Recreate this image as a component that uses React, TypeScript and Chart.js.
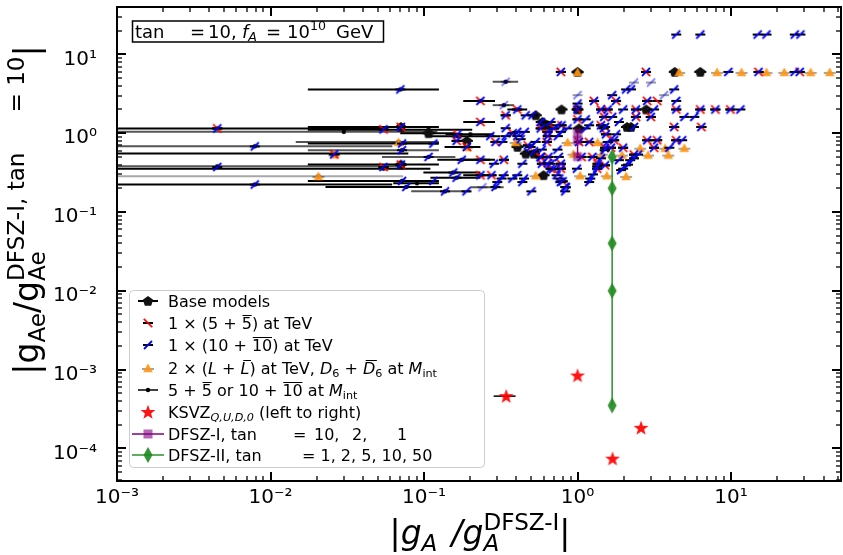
import React, { useEffect, useRef } from 'react';
import { Chart, registerables } from 'chart.js';

Chart.register(...registerables);

const FONT = '"DejaVu Sans", Verdana, sans-serif';

const X_MIN = 1e-3;
const X_MAX = 52;
const Y_MIN = 3.85e-5;
const Y_MAX = 40;

const xTickValues = [1e-3, 1e-2, 1e-1, 1, 10];
const xTickLabels = ['10⁻³', '10⁻²', '10⁻¹', '10⁰', '10¹'];
const yTickValues = [1e-4, 1e-3, 1e-2, 1e-1, 1, 10];
const yTickLabels = ['10⁻⁴', '10⁻³', '10⁻²', '10⁻¹', '10⁰', '10¹'];

type P = [number, number];

// Base models
const basePoints: P[] = [
  [0.107, 1.0], [1.0, 6.0], [0.786, 2.0], [1.0, 2.0], [4.3, 6.0], [6.3, 6.0], [2.8, 2.0],
  [2.1, 1.2], [2.23, 1.2], [0.59, 1.39], [0.64, 1.26], [0.406, 0.67], [0.46, 0.55],
  [0.52, 0.55], [0.6, 0.293], [0.19, 0.8], [0.534, 1.69], [1.02, 1.15], [0.0707, 1.2], [0.0707, 0.4],
];

// 1 x (5 + 5bar) at TeV
const tev5Points: P[] = [
  [0.0045, 1.15], [0.0544, 1.12], [0.0707, 1.2], [0.165, 0.97], [0.233, 2.57], [0.233, 1.39],
  [0.233, 0.46], [0.233, 0.293], [0.0707, 0.4], [0.0544, 0.373], [0.026, 0.54], [0.405, 2.0],
  [0.34, 1.69], [0.292, 0.775], [0.331, 0.46], [0.275, 0.293], [0.163, 0.8], [0.19, 0.67],
  [0.778, 6.0], [0.786, 1.26], [0.575, 1.15], [0.7, 1.15], [0.636, 1.04], [0.64, 0.92],
  [0.63, 0.775], [1.02, 0.775], [1.19, 0.775], [0.575, 0.5], [0.646, 0.5], [1.06, 0.5],
  [1.25, 0.5], [0.585, 0.41], [0.778, 0.41], [1.35, 0.41], [0.668, 0.355], [0.778, 0.355],
  [1.34, 0.355], [1.0, 1.5], [1.0, 2.0], [1.28, 2.57], [1.42, 2.0], [1.57, 2.0], [1.42, 1.26],
  [2.79, 6.0], [15.1, 6.0], [28, 6.0], [1.78, 2.57], [2.84, 2.57], [2.4, 2.0], [4.39, 2.0],
  [6.3, 2.0], [7.9, 2.0], [9.9, 2.0], [1.49, 1.61], [2.4, 1.61], [3.0, 1.61], [1.51, 1.2],
  [4.26, 1.2], [6.4, 1.2], [1.53, 0.97], [1.73, 0.815], [2.84, 0.815], [3.3, 0.815],
  [4.39, 0.815], [1.51, 0.655], [1.65, 0.655], [1.98, 0.655], [3.15, 0.655], [2.33, 0.535],
  [1.51, 0.392], [0.378, 1.0], [0.474, 0.7], [0.575, 0.495], [0.69, 0.35], [0.8, 0.245], [3.3, 2.57],
];

// 1 x (10 + 10bar) at TeV
const tev10Points: P[] = [
  [0.0045, 1.15], [0.0544, 1.12], [0.0707, 1.2], [0.165, 0.97], [0.233, 2.57], [0.233, 1.39],
  [0.233, 0.46], [0.233, 0.293], [0.0707, 0.4], [0.0544, 0.373], [0.026, 0.54], [0.405, 2.0],
  [0.34, 1.69], [0.292, 0.775], [0.331, 0.46], [0.275, 0.293], [0.163, 0.8], [0.19, 0.67],
  [0.778, 6.0], [0.786, 1.26], [0.575, 1.15], [0.7, 1.15], [0.636, 1.04], [0.64, 0.92],
  [0.63, 0.775], [1.02, 0.775], [1.19, 0.775], [0.575, 0.5], [0.646, 0.5], [1.06, 0.5],
  [1.25, 0.5], [0.585, 0.41], [0.778, 0.41], [1.35, 0.41], [0.668, 0.355], [0.778, 0.355],
  [1.34, 0.355], [1.0, 1.5], [1.0, 2.0], [1.28, 2.57], [1.42, 2.0], [1.57, 2.0], [1.42, 1.26],
  [2.79, 6.0], [15.1, 6.0], [28, 6.0], [1.78, 2.57], [2.84, 2.57], [2.4, 2.0], [4.39, 2.0],
  [6.3, 2.0], [7.9, 2.0], [9.9, 2.0], [1.49, 1.61], [2.4, 1.61], [3.0, 1.61], [1.51, 1.2],
  [4.26, 1.2], [6.4, 1.2], [1.53, 0.97], [1.73, 0.815], [2.84, 0.815], [3.3, 0.815],
  [4.39, 0.815], [1.51, 0.655], [1.65, 0.655], [1.98, 0.655], [3.15, 0.655], [2.33, 0.535],
  [1.51, 0.392], [0.378, 1.0], [0.474, 0.7], [0.575, 0.495], [0.69, 0.35], [0.8, 0.245],
  [0.0079, 0.68], [0.0045, 0.373], [0.0079, 0.223], [0.0701, 3.6], [0.0719, 0.74], [0.115, 0.74],
  [0.0719, 0.61], [0.107, 0.5], [0.176, 0.46], [0.155, 0.317], [0.163, 0.273], [0.0719, 0.248],
  [0.115, 0.248], [0.0766, 0.208], [0.137, 0.183], [0.189, 0.183], [0.459, 1.69], [0.508, 1.69],
  [0.575, 1.39], [0.668, 1.39], [0.744, 1.26], [0.86, 1.15], [1.13, 1.15], [1.48, 1.15],
  [0.405, 1.04], [0.453, 1.04], [0.778, 1.04], [0.27, 0.92], [0.34, 0.92], [0.405, 0.92],
  [0.744, 0.92], [0.324, 0.775], [0.534, 0.775], [1.57, 0.775], [0.495, 0.67], [0.585, 0.62],
  [0.74, 0.62], [0.755, 0.5], [0.285, 0.41], [0.437, 0.41], [0.668, 0.41], [0.99, 0.355],
  [0.33, 0.293], [0.405, 0.293], [0.73, 0.293], [0.32, 0.266], [0.376, 0.266], [0.448, 0.266],
  [0.76, 0.266], [1.21, 0.266], [0.3, 0.24], [0.437, 0.24], [0.778, 0.24], [0.292, 0.208],
  [0.83, 0.208], [0.5, 0.183], [0.83, 0.183], [1.0, 2.38], [1.13, 1.5], [1.19, 1.26],
  [4.39, 17.9], [6.3, 17.9], [14.9, 17.9], [17.0, 17.9], [26.0, 17.9], [28.3, 17.9],
  [9.6, 6.0], [25.9, 6.0], [2.07, 3.6], [2.23, 3.6], [4.26, 3.6], [1.68, 3.04], [4.39, 2.57],
  [1.98, 2.0], [3.15, 2.0], [11.5, 2.0], [1.68, 1.61], [4.96, 1.61], [5.76, 1.61], [1.86, 1.39],
  [2.33, 1.2], [1.78, 0.97], [4.8, 0.815], [3.96, 0.655], [2.48, 0.535], [1.86, 0.455],
  [2.2, 0.455], [2.07, 0.392], [1.98, 0.355], [1.19, 0.24], [1.26, 0.3], [1.34, 0.38],
  [1.42, 0.48], [1.5, 0.61], [1.92, 0.34], [2.13, 0.4], [2.33, 0.48], [0.34, 1.16],
  [0.426, 0.84], [0.52, 0.59], [0.64, 0.416], [0.84, 0.206],
];

const tev10FaintPoints: P[] = [
  [0.34, 4.5], [0.331, 2.27], [1.0, 3.04], [2.33, 4.4], [3.01, 4.4], [3.66, 3.04], [0.24, 0.206],
];

// 2 x (L + Lbar) at TeV, D6 + D6bar at M_int
const llPoints: P[] = [
  [0.0205, 0.287], [0.026, 0.54], [0.0682, 0.775], [0.19, 0.67], [0.395, 0.775], [0.86, 0.775],
  [1.35, 0.775], [0.94, 0.55], [1.44, 0.55], [0.534, 0.293], [1.04, 0.293], [1.55, 0.293],
  [2.07, 0.287], [1.0, 6.0], [4.59, 6.0], [8.1, 6.0], [11.7, 6.0], [17.0, 6.0], [22.2, 6.0],
  [33, 6.0], [43.9, 6.0], [2.56, 0.655], [3.72, 0.655], [4.96, 0.655], [1.95, 0.535],
  [2.88, 0.535], [3.9, 0.535],
];

// 5 + 5bar or 10 + 10bar at M_int (central value and x range)
const mIntY = [1.15, 1.04, 0.683, 0.552, 0.38, 0.355, 0.284, 0.223, 1.2, 0.775, 0.74, 0.61, 0.4, 0.248,
  0.208, 0.183, 0.5, 0.46, 0.317, 0.273, 0.232, 0.916, 0.67, 3.6, 2.57, 1.39, 0.97, 0.293, 0.46,
  4.5, 2.27, 2.0, 1.11, 0.206, 1.0];
const mIntLo = [1e-4, 1e-4, 1e-4, 1e-4, 1e-4, 1e-4, 1e-4, 1e-4, 0.0175, 0.0146, 0.0175, 0.0175, 0.0175,
  0.0175, 0.0228, 0.0825, 0.0532, 0.122, 0.099, 0.11, 0.063, 0.11, 0.136, 0.0175, 0.18, 0.18, 0.138,
  0.18, 0.18, 0.28, 0.28, 0.349, 0.0175, 0.2, 0.07];
const mIntHi = [0.0544, 0.122, 0.0622, 0.079, 0.07, 0.11, 0.073, 0.062, 0.125, 0.125, 0.125, 0.125, 0.125,
  0.125, 0.131, 0.2, 0.16, 0.27, 0.233, 0.233, 0.125, 0.315, 0.233, 0.125, 0.29, 0.29, 0.284, 0.27,
  0.29, 0.41, 0.385, 0.47, 0.206, 0.33, 0.16];
const mIntShade = [0, 1, 1, 0, 1, 0, 2, 0, 0, 1, 0, 1, 0, 0, 0, 1, 1, 0, 0, 0, 0, 0, 0, 0, 0, 0, 0, 0, 0,
  1, 1, 0, 0, 1, 0];
const mIntX = [0.0045, 0.03, 0.0079, 0.026, 0.0045, 0.0544, 0.0205, 0.0079, 0.0707, 0.0682, 0.0719,
  0.0719, 0.0707, 0.0719, 0.0766, 0.137, 0.107, 0.176, 0.155, 0.163, 0.09, 0.165, 0.19, 0.0701,
  0.233, 0.233, 0.2, 0.233, 0.233, 0.34, 0.331, 0.405, 0.107, 0.29, 0.107];

// KSVZ Q, U, D, 0
const ksvzX = [0.343, 1.0, 1.69, 2.59];
const ksvzY = [4.6e-4, 8.4e-4, 7.4e-5, 1.82e-4];
const ksvzLo = [0.284, 1.0, 1.69, 2.59];
const ksvzHi = [0.395, 1.0, 1.69, 2.59];

// DFSZ-I, tan beta = 10, 2, 1
const dfsz1X = [1.0, 1.0, 1.0];
const dfsz1Y = [1.0, 0.808, 0.505];
// DFSZ-II, tan beta = 1, 2, 5, 10, 50
const dfsz2X = [1.68, 1.68, 1.68, 1.68, 1.68];
const dfsz2Y = [0.5, 0.2, 0.04, 0.01, 3.5e-4];

const SHADES = ['#000000', '#555555', '#a8a8a8'];

type Seg = { t?: string; it?: boolean; sub?: boolean; sup?: boolean; over?: boolean; gap?: number; at?: number; keep?: boolean };

function rich(ctx: CanvasRenderingContext2D, segs: Seg[], x0: number, y: number, size: number, dry = false): number {
  let x = x0;
  for (const s of segs) {
    if (s.at !== undefined) x = s.at;
    if (s.gap) { x += s.gap; continue; }
    const small = s.sub || s.sup;
    const sz = small ? size * 0.7 : size;
    ctx.font = `${s.it ? 'italic ' : ''}${sz}px ${FONT}`;
    const dy = s.sub ? size * 0.2 : s.sup ? -size * 0.42 : 0;
    const w = ctx.measureText(s.t || '').width;
    if (!dry) {
      ctx.fillText(s.t || '', x, y + dy);
      if (s.over) {
        ctx.lineWidth = Math.max(1, sz * 0.065);
        const oy = Math.round(y + dy - sz * 0.86) + 0.5;
        const sh = s.it ? sz * 0.12 : 0;
        ctx.beginPath();
        ctx.moveTo(x + sz * 0.05 + sh, oy);
        ctx.lineTo(x + w - sz * 0.02 + sh, oy);
        ctx.stroke();
      }
    }
    if (!s.keep) x += w;
  }
  return x - x0;
}

function mk(w: number, h: number, fn: (g: CanvasRenderingContext2D) => void): HTMLCanvasElement {
  const c = document.createElement('canvas');
  c.width = w;
  c.height = h;
  const g = c.getContext('2d')!;
  fn(g);
  return c;
}

function seg(g: CanvasRenderingContext2D, x1: number, y1: number, x2: number, y2: number, color: string, lw: number) {
  g.strokeStyle = color;
  g.lineWidth = lw;
  g.beginPath();
  g.moveTo(x1, y1);
  g.lineTo(x2, y2);
  g.stroke();
}

function makeMarkers() {
  const red = mk(16, 16, (g) => {
    seg(g, 3, 8, 13, 8, '#000', 2);
    seg(g, 3.8, 3.8, 12.2, 12.2, 'rgba(255,0,0,0.95)', 1.8);
  });
  const blue = mk(16, 16, (g) => {
    seg(g, 3, 8, 13, 8, '#000', 2);
    seg(g, 4, 12, 12, 4, '#0000ff', 1.8);
  });
  const blueFaint = mk(16, 16, (g) => {
    seg(g, 3, 8, 13, 8, 'rgba(0,0,0,0.4)', 2);
    seg(g, 4, 12, 12, 4, 'rgba(0,0,255,0.5)', 1.8);
  });
  const orange = mk(16, 16, (g) => {
    seg(g, 2, 9, 14, 9, 'rgba(0,0,0,0.35)', 2);
    g.fillStyle = 'rgba(255,150,20,0.92)';
    g.beginPath();
    g.moveTo(8, 3.5);
    g.lineTo(12.8, 12.2);
    g.lineTo(3.2, 12.2);
    g.closePath();
    g.fill();
  });
  const base = mk(16, 16, (g) => {
    seg(g, 2, 8, 14, 8, '#000', 2);
    g.fillStyle = '#111';
    g.beginPath();
    for (let i = 0; i < 5; i++) {
      const a = -Math.PI / 2 + (i * 2 * Math.PI) / 5;
      const px = 8 + 5.4 * Math.cos(a);
      const py = 8.4 + 5.4 * Math.sin(a);
      if (i === 0) g.moveTo(px, py); else g.lineTo(px, py);
    }
    g.closePath();
    g.fill();
  });
  const dot = mk(8, 8, (g) => {
    g.fillStyle = '#000';
    g.beginPath();
    g.arc(4, 4, 2.2, 0, Math.PI * 2);
    g.fill();
  });
  const star = mk(20, 20, (g) => {
    g.fillStyle = 'rgba(255,0,0,0.92)';
    g.beginPath();
    for (let i = 0; i < 10; i++) {
      const a = -Math.PI / 2 + (i * Math.PI) / 5;
      const r = i % 2 === 0 ? 7.8 : 3.2;
      const px = 10 + r * Math.cos(a);
      const py = 10.5 + r * Math.sin(a);
      if (i === 0) g.moveTo(px, py); else g.lineTo(px, py);
    }
    g.closePath();
    g.fill();
  });
  const diamond = mk(12, 18, (g) => {
    g.fillStyle = 'rgba(34,139,34,0.92)';
    g.beginPath();
    g.moveTo(6, 1);
    g.lineTo(10.5, 9);
    g.lineTo(6, 17);
    g.lineTo(1.5, 9);
    g.closePath();
    g.fill();
  });
  const square = mk(12, 12, (g) => {
    g.fillStyle = 'rgba(128,0,128,0.6)';
    g.fillRect(1.5, 1.5, 9, 9);
  });
  return { red, blue, blueFaint, orange, base, dot, star, diamond, square };
}

export default function App() {
  const canvasRef = useRef<HTMLCanvasElement | null>(null);

  useEffect(() => {
    const canvas = canvasRef.current;
    if (!canvas) return;
    const m = makeMarkers();

    const lineData: any[] = [];
    mIntY.forEach((y, i) => {
      lineData.push({ x: mIntLo[i], y }, { x: mIntHi[i], y }, { x: mIntHi[i], y: null });
    });
    const ksvzErr: any[] = [];
    ksvzY.forEach((y, i) => {
      ksvzErr.push({ x: ksvzLo[i], y }, { x: ksvzHi[i], y }, { x: ksvzHi[i], y: null });
    });
    const pts = (a: P[]) => a.map(([x, y]) => ({ x, y }));
    const xy = (xs: number[], ys: number[]) => xs.map((x, i) => ({ x, y: ys[i] }));

    const decor = {
      id: 'decor',
      afterDraw(chart: any) {
        const ctx: CanvasRenderingContext2D = chart.ctx;
        const ca = chart.chartArea;
        const xs = chart.scales.x;
        const ys = chart.scales.y;
        ctx.save();
        ctx.strokeStyle = '#000';
        ctx.fillStyle = '#000';
        const ln = (x1: number, y1: number, x2: number, y2: number) => {
          ctx.beginPath();
          ctx.moveTo(x1, y1);
          ctx.lineTo(x2, y2);
          ctx.stroke();
        };
        // ticks (inward, all four sides)
        for (let e = -3; e <= 1; e++) {
          for (let k = 1; k <= 9; k++) {
            const v = k * Math.pow(10, e);
            if (v < X_MIN * 0.999 || v > X_MAX) continue;
            const px = Math.round(xs.getPixelForValue(v));
            const len = k === 1 ? 9 : 5;
            ctx.lineWidth = k === 1 ? 2 : 1.3;
            ln(px, ca.bottom, px, ca.bottom - len);
            ln(px, ca.top, px, ca.top + len);
          }
        }
        for (let e = -5; e <= 1; e++) {
          for (let k = 1; k <= 9; k++) {
            const v = k * Math.pow(10, e);
            if (v < Y_MIN || v > Y_MAX) continue;
            const py = Math.round(ys.getPixelForValue(v));
            const len = k === 1 ? 9 : 5;
            ctx.lineWidth = k === 1 ? 2 : 1.3;
            ln(ca.left, py, ca.left + len, py);
            ln(ca.right, py, ca.right - len, py);
          }
        }
        ctx.lineWidth = 2;
        ctx.strokeRect(ca.left, ca.top, ca.right - ca.left, ca.bottom - ca.top);

        // annotation box
        ctx.lineWidth = 1.5;
        ctx.strokeRect(132.5, 21, 251, 21);
        ctx.textBaseline = 'alphabetic';
        ctx.textAlign = 'left';
        rich(ctx, [
          { t: 'tan', at: 135 }, { t: '=', at: 190 }, { t: '10,', at: 208 },
          { t: 'f', it: true, at: 242 }, { t: 'A', it: true, sub: true },
          { t: '=', at: 266 }, { t: '10', at: 287 }, { t: '10', sup: true }, { t: 'GeV', at: 336 },
        ], 135, 37.5, 18);

        // legend
        const lx = 129.5, ly = 290.5, lw = 355, lh = 177, r = 4;
        ctx.beginPath();
        ctx.moveTo(lx + r, ly);
        ctx.lineTo(lx + lw - r, ly);
        ctx.quadraticCurveTo(lx + lw, ly, lx + lw, ly + r);
        ctx.lineTo(lx + lw, ly + lh - r);
        ctx.quadraticCurveTo(lx + lw, ly + lh, lx + lw - r, ly + lh);
        ctx.lineTo(lx + r, ly + lh);
        ctx.quadraticCurveTo(lx, ly + lh, lx, ly + lh - r);
        ctx.lineTo(lx, ly + r);
        ctx.quadraticCurveTo(lx, ly, lx + r, ly);
        ctx.closePath();
        ctx.fillStyle = 'rgba(255,255,255,0.8)';
        ctx.fill();
        ctx.strokeStyle = '#cccccc';
        ctx.lineWidth = 1;
        ctx.stroke();

        const rows = [301, 323, 345, 368, 390, 412, 434, 455];
        const hx = 148;
        const put = (img: HTMLCanvasElement, y: number) => ctx.drawImage(img, Math.round(hx - img.width / 2), Math.round(y - img.height / 2));
        ctx.strokeStyle = '#000';
        ctx.lineWidth = 2;
        ln(138, rows[0], 158, rows[0]);
        put(m.base, rows[0]);
        put(m.red, rows[1]);
        put(m.blue, rows[2]);
        put(m.orange, rows[3]);
        ctx.lineWidth = 1.5;
        ctx.strokeStyle = '#000';
        ln(138, rows[4], 158, rows[4]);
        put(m.dot, rows[4]);
        put(m.star, rows[5]);
        ctx.strokeStyle = 'purple';
        ctx.lineWidth = 1.5;
        ln(132, rows[6], 164, rows[6]);
        put(m.square, rows[6]);
        ctx.strokeStyle = 'rgba(34,139,34,0.95)';
        ln(132, rows[7], 164, rows[7]);
        put(m.diamond, rows[7]);

        ctx.fillStyle = '#000';
        ctx.strokeStyle = '#000';
        const tx = 168;
        const fs = 16;
        const texts: Seg[][] = [
          [{ t: 'Base models' }],
          [{ t: '1 × (5 + ' }, { t: '5', over: true }, { t: ') at TeV' }],
          [{ t: '1 × (10 + ' }, { t: '10', over: true }, { t: ') at TeV' }],
          [{ t: '2 × (' }, { t: 'L', it: true }, { t: ' + ' }, { t: 'L', it: true, over: true }, { t: ') at TeV, ' },
            { t: 'D', it: true }, { t: '6', sub: true }, { t: ' + ' }, { t: 'D', it: true, over: true }, { t: '6', sub: true },
            { t: ' at ' }, { t: 'M', it: true }, { t: 'int', sub: true }],
          [{ t: '5 + ' }, { t: '5', over: true }, { t: ' or 10 + ' }, { t: '10', over: true }, { t: ' at ' },
            { t: 'M', it: true }, { t: 'int', sub: true }],
          [{ t: 'KSVZ' }, { t: 'Q,U,D,0', it: true, sub: true }, { t: ' (left to right)' }],
          [{ t: 'DFSZ-I, tan' }, { t: '=', at: 293 }, { t: '10,', at: 314 }, { t: '2,', at: 352 }, { t: '1', at: 397 }],
          [{ t: 'DFSZ-II, tan' }, { t: '= 1, 2, 5, 10, 50', at: 302 }],
        ];
        texts.forEach((s, i) => rich(ctx, s, tx, rows[i] + 6, fs));

        // x-axis title
        const xt: Seg[] = [
          { t: '|g', it: true }, { t: 'A', it: true, sub: true }, { gap: 14 }, { t: '/g', it: true },
          { t: 'A', it: true, sub: true, keep: true }, { t: 'DFSZ-I', sup: true }, { t: '|', it: true },
        ];
        const xw = rich(ctx, xt, 0, 0, 33, true);
        rich(ctx, xt, 480 - xw / 2, 544, 33);

        // y-axis title
        const yt: Seg[] = [
          { t: '|g' }, { t: 'Ae', sub: true }, { t: '/g' }, { t: 'Ae', sub: true, keep: true },
          { t: 'DFSZ-I, tan', sup: true }, { gap: 40 }, { t: '= 10', sup: true }, { t: '|' },
        ];
        const yw = rich(ctx, yt, 0, 0, 33, true);
        ctx.save();
        ctx.translate(38, 210);
        ctx.rotate(-Math.PI / 2);
        rich(ctx, yt, -yw / 2, 0, 33);
        ctx.restore();

        ctx.restore();
      },
    };

    const chart = new Chart(canvas, {
      type: 'scatter',
      data: {
        datasets: [
          {
            type: 'line', label: 'DFSZ-II', data: xy(dfsz2X, dfsz2Y), borderColor: 'rgba(34,139,34,0.95)',
            borderWidth: 1.5, pointStyle: m.diamond as any, pointRadius: 7, order: 0,
          } as any,
          {
            type: 'line', label: 'DFSZ-I', data: xy(dfsz1X, dfsz1Y), borderColor: 'purple',
            borderWidth: 1.5, pointStyle: m.square as any, pointRadius: 6, order: 1,
          },
          { label: 'KSVZ', data: xy(ksvzX, ksvzY), pointStyle: m.star as any, pointRadius: 8, order: 2 },
          {
            type: 'line', label: 'KSVZ err', data: ksvzErr, borderColor: '#000', borderWidth: 1.5,
            pointRadius: 0, spanGaps: false, order: 3,
          },
          { label: '10', data: pts(tev10Points), pointStyle: m.blue as any, pointRadius: 7, order: 4 },
          { label: '5', data: pts(tev5Points), pointStyle: m.red as any, pointRadius: 7, order: 5 },
          { label: '10f', data: pts(tev10FaintPoints), pointStyle: m.blueFaint as any, pointRadius: 7, order: 6 },
          { label: 'LL', data: pts(llPoints), pointStyle: m.orange as any, pointRadius: 7, order: 7 },
          { label: 'base', data: pts(basePoints), pointStyle: m.base as any, pointRadius: 7, order: 8 },
          { label: 'mint', data: xy(mIntX, mIntY), pointStyle: m.dot as any, pointRadius: 3, order: 9 },
          {
            type: 'line', label: 'mint lines', data: lineData, borderColor: '#000', borderWidth: 2,
            pointRadius: 0, spanGaps: false, order: 10,
            segment: { borderColor: (c: any) => SHADES[mIntShade[Math.floor(c.p0DataIndex / 3)]] },
          } as any,
        ] as any,
      },
      options: {
        animation: false,
        responsive: false,
        devicePixelRatio: 1,
        events: [],
        layout: { autoPadding: false, padding: { top: 7, right: 2, left: 0, bottom: 0 } },
        plugins: { legend: { display: false }, tooltip: { enabled: false }, title: { display: false } },
        scales: {
          x: {
            type: 'logarithmic', min: X_MIN, max: X_MAX, position: 'bottom',
            grid: { display: false, drawTicks: false }, border: { display: false },
            afterBuildTicks: (s: any) => { s.ticks = xTickValues.map((v) => ({ value: v })); },
            afterFit: (s: any) => { s.height = 74; s.paddingLeft = 0; s.paddingRight = 0; s.paddingTop = 0; s.paddingBottom = 0; },
            ticks: {
              autoSkip: false, maxRotation: 0, minRotation: 0, padding: 5, color: '#000',
              font: { family: FONT, size: 20 },
              callback: (_v: any, i: number) => xTickLabels[i],
            },
          },
          y: {
            type: 'logarithmic', min: Y_MIN, max: Y_MAX, position: 'left',
            grid: { display: false, drawTicks: false }, border: { display: false },
            afterBuildTicks: (s: any) => { s.ticks = yTickValues.map((v) => ({ value: v })); },
            afterFit: (s: any) => { s.width = 117; s.paddingTop = 0; s.paddingBottom = 0; s.paddingLeft = 0; s.paddingRight = 0; },
            ticks: {
              autoSkip: false, padding: 20, color: '#000', labelOffset: 5,
              font: { family: FONT, size: 20 },
              callback: (_v: any, i: number) => yTickLabels[i],
            },
          },
        },
      } as any,
      plugins: [decor],
    });
    return () => chart.destroy();
  }, []);

  return (
    <div style={{ position: 'absolute', left: 0, top: 0, width: 843, height: 555, background: '#fff' }}>
      <canvas ref={canvasRef} width={843} height={555} style={{ display: 'block', width: 843, height: 555 }} />
    </div>
  );
}
